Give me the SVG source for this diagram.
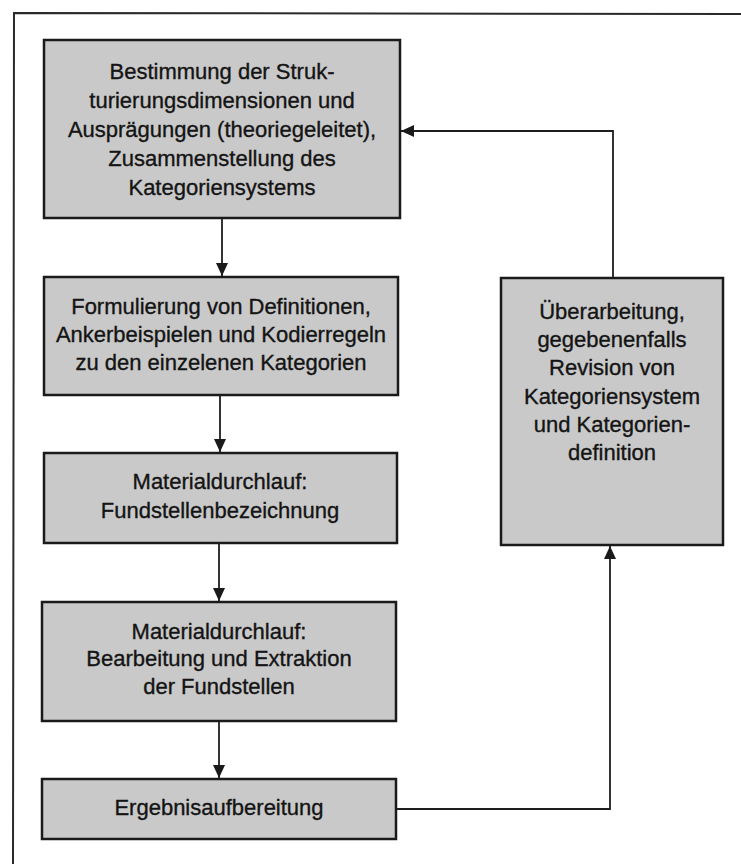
<svg xmlns="http://www.w3.org/2000/svg" width="741" height="864" viewBox="0 0 741 864">
<style>
.box{fill:#c9c9c9;stroke:#1a1a1a;stroke-width:2.5}
.t{font-family:"Liberation Sans",Arial,sans-serif;font-size:22px;fill:#141414;stroke:#141414;stroke-width:0.35;text-anchor:middle}
.c{fill:none;stroke:#1e1e1e;stroke-width:1.8}
.frame{fill:none;stroke:#2a2a2a;stroke-width:2}
</style>
<defs>
<marker id="ah" viewBox="0 0 10 10" refX="10" refY="5" markerWidth="13" markerHeight="12" markerUnits="userSpaceOnUse" orient="auto" preserveAspectRatio="none">
<path d="M0,0 L10,5 L0,10 z" fill="#1a1a1a"/>
</marker>
</defs>
<rect width="741" height="864" fill="#ffffff"/>
<path class="frame" d="M13,864 L14,13 L741,14"/>
<g id="n1">
<rect class="box" x="44" y="40" width="356" height="178"/>
<text class="t" x="222" y="79">Bestimmung der Struk-</text>
<text class="t" x="222" y="108">turierungsdimensionen und</text>
<text class="t" x="222" y="137">Ausprägungen (theoriegeleitet),</text>
<text class="t" x="222" y="166">Zusammenstellung des</text>
<text class="t" x="222" y="195">Kategoriensystems</text>
</g>
<g id="n2">
<rect class="box" x="44" y="277" width="354" height="118"/>
<text class="t" x="221" y="314">Formulierung von Definitionen,</text>
<text class="t" x="221" y="342">Ankerbeispielen und Kodierregeln</text>
<text class="t" x="221" y="370">zu den einzelenen Kategorien</text>
</g>
<g id="n3">
<rect class="box" x="44" y="453" width="353" height="90"/>
<text class="t" x="220" y="489">Materialdurchlauf:</text>
<text class="t" x="220" y="518">Fundstellenbezeichnung</text>
</g>
<g id="n4">
<rect class="box" x="42" y="602" width="354" height="119"/>
<text class="t" x="219" y="639">Materialdurchlauf:</text>
<text class="t" x="219" y="666">Bearbeitung und Extraktion</text>
<text class="t" x="219" y="694">der Fundstellen</text>
</g>
<g id="n5">
<rect class="box" x="42" y="779" width="354" height="60"/>
<text class="t" x="219" y="815">Ergebnisaufbereitung</text>
</g>
<g id="n6">
<rect class="box" x="501" y="278" width="222" height="267"/>
<text class="t" x="612" y="319">Überarbeitung,</text>
<text class="t" x="612" y="347">gegebenenfalls</text>
<text class="t" x="612" y="375">Revision von</text>
<text class="t" x="612" y="404">Kategoriensystem</text>
<text class="t" x="612" y="432">und Kategorien-</text>
<text class="t" x="612" y="460">definition</text>
</g>
<g id="connectors">
<line class="c" x1="222" y1="218" x2="222" y2="276" marker-end="url(#ah)"/>
<line class="c" x1="220" y1="395" x2="220" y2="452" marker-end="url(#ah)"/>
<line class="c" x1="219" y1="543" x2="219" y2="601" marker-end="url(#ah)"/>
<line class="c" x1="219" y1="721" x2="219" y2="778" marker-end="url(#ah)"/>
<polyline class="c" points="397,809 610,809 610,546" marker-end="url(#ah)"/>
<polyline class="c" points="613,277 613,131 401,131" marker-end="url(#ah)"/>
</g>
</svg>
